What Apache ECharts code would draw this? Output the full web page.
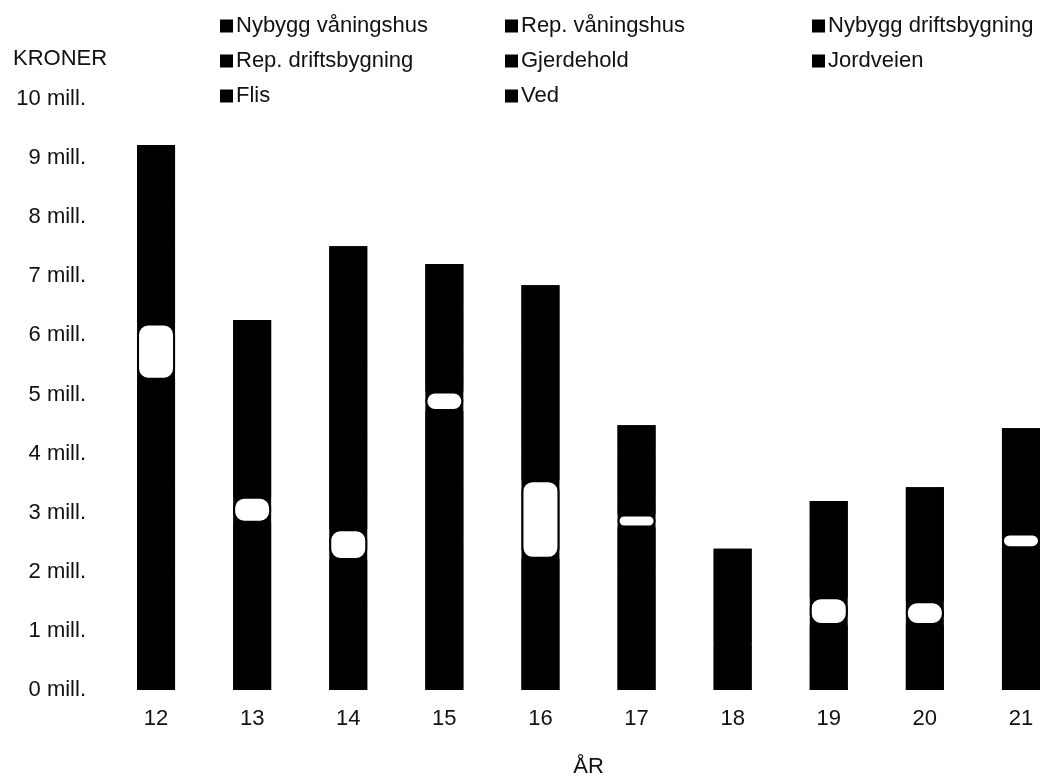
<!DOCTYPE html>
<html>
<head>
<meta charset="utf-8">
<script src="https://cdn.jsdelivr.net/npm/echarts@6/dist/echarts.min.js"></script>
<style>
html,body{margin:0;padding:0;background:#fff;}
#chart{width:1047px;height:779px;}
</style>
</head>
<body>
<div id="chart"></div>
<script>
// Years (x axis categories)
var years = ['12','13','14','15','16','17','18','19','20','21'];
// Series values in millions of kroner (stacked bottom to top)
var nybyggVaningshus   = [2.0, 0.0, 1.0, 2.5, 0.0, 1.2, 0.0, 0.0, 0.0, 1.0];
var repVaningshus      = [1.5, 1.0, 0.5, 1.0, 1.0, 0.8, 0.3, 0.5, 0.6, 0.6];
var nybyggDrift        = [1.75, 1.83, 0.70, 1.22, 1.22, 0.75, 0.46, 0.60, 0.50, 0.80];
var repDrift           = [0.95, 0.44, 0.52, 0.33, 1.33, 0.22, 0.02, 0.47, 0.40, 0.25];
var gjerdehold         = [0.5, 0.4, 0.6, 0.3, 0.5, 0.2, 0.3, 0.2, 0.3, 0.2];
var jordveien          = [0.8, 0.6, 1.0, 0.5, 0.8, 0.4, 0.4, 0.4, 0.5, 0.5];
var flis               = [0.7, 0.8, 1.2, 0.6, 0.9, 0.4, 0.5, 0.5, 0.5, 0.4];
var ved                = [1.02, 1.19, 1.99, 0.76, 1.10, 0.51, 0.41, 0.53, 0.63, 0.68];
var seriesNames = ['Nybygg våningshus','Rep. våningshus','Nybygg driftsbygning','Rep. driftsbygning','Gjerdehold','Jordveien','Flis','Ved'];
var seriesData  = [nybyggVaningshus, repVaningshus, nybyggDrift, repDrift, gjerdehold, jordveien, flis, ved];
var yTickValues = [0,1,2,3,4,5,6,7,8,9,10];

var FONT = 'Liberation Sans, Arial, sans-serif';
var TXT = '#111';
var FS = 22;

// total for black backdrop behind the stack
var totals = years.map(function(_, i){
  var s = 0; seriesData.forEach(function(a){ s += a[i]; }); return +s.toFixed(2);
});

var series = [{
  name: '__total', type: 'bar', data: totals, barWidth: 38, barGap: '-100%',
  itemStyle: {color: '#000'}, silent: true, z: 1
}];
seriesNames.forEach(function(n, k){
  var white = (k === 3);
  series.push({
    name: n, type: 'bar', stack: 'all', data: seriesData[k], barWidth: 38, barGap: '-100%', z: 2,
    itemStyle: white ? {color: '#fff', borderColor: '#000', borderWidth: 2, borderRadius: 10}
                     : {color: '#000'}
  });
});

function legendItem(n){ return {name: n, icon: 'rect', itemStyle: {color: '#000', borderWidth: 0}}; }
function mkLegend(left, names){
  return {
    orient: 'vertical', left: left, top: 15, padding: 0, itemWidth: 13, itemHeight: 13, itemGap: 13,
    selectedMode: false,
    textStyle: {fontFamily: FONT, fontSize: FS, color: TXT, padding: [0,0,0,-2]},
    data: names.map(legendItem)
  };
}

var chart = echarts.init(document.getElementById('chart'), null, {renderer: 'canvas'});
chart.setOption({
  animation: false,
  backgroundColor: '#fff',
  title: {text: 'KRONER', left: 8, top: 43, textStyle: {fontFamily: FONT, fontSize: FS, fontWeight: 'normal', color: TXT}},
  legend: [
    mkLegend(220, [seriesNames[0], seriesNames[3], seriesNames[6]]),
    mkLegend(505, [seriesNames[1], seriesNames[4], seriesNames[7]]),
    mkLegend(812, [seriesNames[2], seriesNames[5]])
  ],
  grid: {left: 108, width: 961, top: 99, bottom: 89, containLabel: false, outerBoundsMode: 'none'},
  xAxis: {
    type: 'category', data: years, name: 'ÅR', nameLocation: 'middle', nameGap: 66,
    nameTextStyle: {fontFamily: FONT, fontSize: FS, color: TXT},
    axisLine: {show: false}, axisTick: {show: false},
    axisLabel: {fontFamily: FONT, fontSize: FS, color: TXT, margin: 18}
  },
  yAxis: {
    type: 'value', min: yTickValues[0], max: yTickValues[yTickValues.length-1], interval: 1,
    axisLine: {show: false}, axisTick: {show: false}, splitLine: {show: false},
    axisLabel: {fontFamily: FONT, fontSize: FS, color: TXT, margin: 22, formatter: '{value} mill.'}
  },
  series: series
});
</script>
</body>
</html>
